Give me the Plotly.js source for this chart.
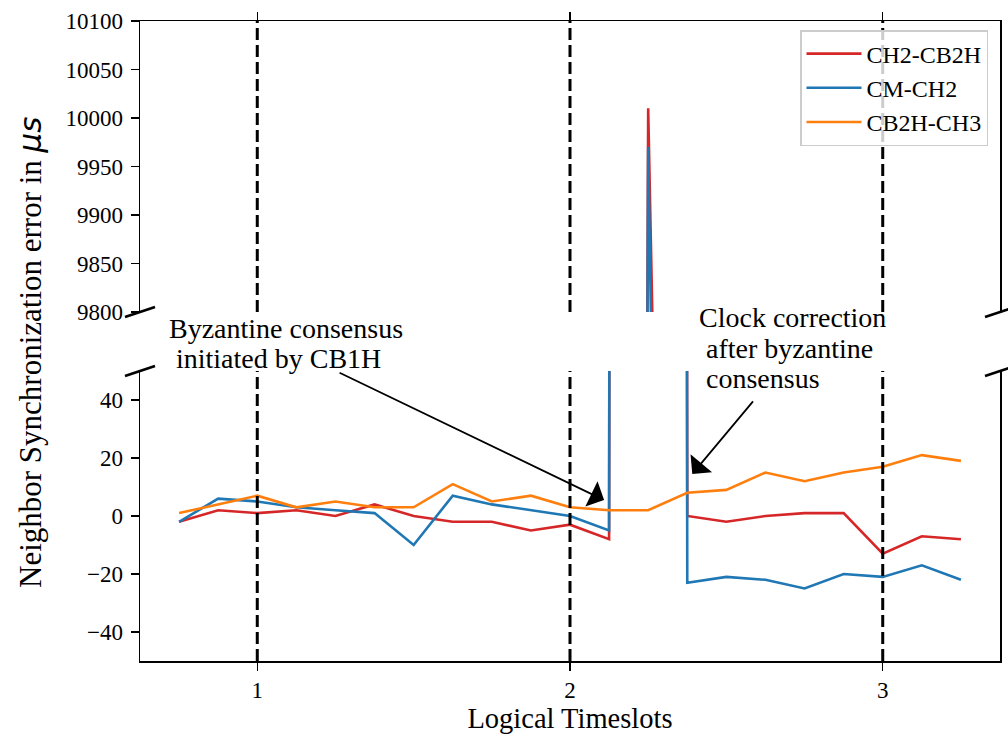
<!DOCTYPE html>
<html>
<head>
<meta charset="utf-8">
<script src="https://cdn.plot.ly/plotly-3.0.1.min.js"></script>
<style>html,body{margin:0;padding:0;background:#fff;}#chart{width:1008px;height:734px;}</style>
</head>
<body>
<div id="chart"></div>
<script>
// ---- data ----
const timeslots = [0.75, 0.875, 1, 1.125, 1.25, 1.375, 1.5, 1.625, 1.75, 1.875, 2, 2.125, 2.25, 2.375, 2.5, 2.625, 2.75, 2.875, 3, 3.125, 3.25];
const ch2_cb2h = [-2, 2, 1, 2, 0, 4, 0, -2, -2, -5, -3, -8, 10010, 0, -2, 0, 1, 1, -13, -7, -8];
const cm_ch2 = [-2, 6, 5, 3, 2, 1, -10, 7, 4, 2, 0, -5, 9970, -23, -21, -22, -25, -20, -21, -17, -22];
const cb2h_ch3 = [1, 4, 7, 3, 5, 3, 3, 11, 5, 7, 3, 2, 2, 8, 9, 15, 12, 15, 17, 21, 19];
const seriesNames = ['CH2-CB2H', 'CM-CH2', 'CB2H-CH3'];
const seriesColors = ['#d62728', '#1f77b4', '#ff7f0e'];
const epochMarkers = [1, 2, 3];
const xTickVals = [1, 2, 3];
const xTickText = ['1', '2', '3'];
const upperTicks = [9800, 9850, 9900, 9950, 10000, 10050, 10100];
const upperTickText = ['9800', '9850', '9900', '9950', '10000', '10050', '10100'];
const lowerTicks = [-40, -20, 0, 20, 40];
const lowerTickText = ['\u221240', '\u221220', '0', '20', '40'];
const upperRange = [9800, 10100];
const lowerRange = [-50, 50];
const xRange = [0.625, 3.375];

const FONT = 'Liberation Serif';
const series = [ch2_cb2h, cm_ch2, cb2h_ch3];

// geometry (pixels)
const W = 1008, H = 734;
const mL = 140, mR = 8, mT = 21, mB = 73;
const pw = W - mL - mR, ph = H - mT - mB;
const upperBottomPx = 312, lowerTopPx = 371;
const upperDom = [(H - mB - upperBottomPx) / ph, 1];
const lowerDom = [0, (H - mB - lowerTopPx) / ph];
const px2x = p => (p - mL) / pw;
const px2y = p => (H - mB - p) / ph;

const traces = [];
series.forEach((vals, i) => {
  traces.push({x: timeslots, y: vals, type: 'scatter', mode: 'lines', name: seriesNames[i],
    xaxis: 'x', yaxis: 'y', line: {color: seriesColors[i], width: 2.6}, showlegend: false});
});
series.forEach((vals, i) => {
  traces.push({x: timeslots, y: vals, type: 'scatter', mode: 'lines', name: seriesNames[i],
    xaxis: 'x2', yaxis: 'y2', line: {color: seriesColors[i], width: 2.6}, showlegend: true});
});

const shapes = [];
epochMarkers.forEach(v => {
  shapes.push({type: 'line', xref: 'x', yref: 'y domain', x0: v, x1: v, y0: 0, y1: 1,
    line: {color: 'black', width: 3, dash: '12px,5px'}, layer: 'above'});
  shapes.push({type: 'line', xref: 'x2', yref: 'y2 domain', x0: v, x1: v, y0: 0, y1: 1,
    line: {color: 'black', width: 3, dash: '12px,5px'}, layer: 'above'});
});
// broken-axis diagonal marks
const dxp = 15, dyp = 5;
[[mL, upperBottomPx], [W - mR, upperBottomPx], [mL, lowerTopPx], [W - mR, lowerTopPx]].forEach(([cx, cy]) => {
  shapes.push({type: 'line', xref: 'paper', yref: 'paper',
    x0: px2x(cx - dxp), y0: px2y(cy + dyp), x1: px2x(cx + dxp), y1: px2y(cy - dyp),
    line: {color: 'black', width: 2.6}});
});

function tf(size) { return {family: FONT, size: size, color: 'black'}; }
const annotations = [
  // y-axis title
  {xref: 'paper', yref: 'paper', x: px2x(30), y: px2y(353), textangle: -90, showarrow: false,
   xanchor: 'center', yanchor: 'middle',
   text: 'Neighbor Synchronization error in <span style="font-family:DejaVu Sans"><i>μs</i></span>',
   font: tf(31)},
  // text labels
  {xref: 'paper', yref: 'paper', x: px2x(167), y: px2y(328), xanchor: 'left', yanchor: 'middle', showarrow: false,
   text: 'Byzantine consensus', font: tf(28)},
  {xref: 'paper', yref: 'paper', x: px2x(167), y: px2y(358), xanchor: 'left', yanchor: 'middle', showarrow: false,
   text: '\u00a0initiated by CB1H', font: tf(28)},
  {xref: 'paper', yref: 'paper', x: px2x(697), y: px2y(317), xanchor: 'left', yanchor: 'middle', showarrow: false,
   text: 'Clock correction', font: tf(28)},
  {xref: 'paper', yref: 'paper', x: px2x(697), y: px2y(348), xanchor: 'left', yanchor: 'middle', showarrow: false,
   text: '\u00a0after byzantine', font: tf(28)},
  {xref: 'paper', yref: 'paper', x: px2x(697), y: px2y(378), xanchor: 'left', yanchor: 'middle', showarrow: false,
   text: '\u00a0consensus', font: tf(28)},
  // arrows
  {xref: 'x', yref: 'y', x: 2.109, y: 5.5, text: '', showarrow: true, arrowhead: 1, arrowsize: 2.6,
   arrowwidth: 1.8, arrowcolor: 'black', ax: -266, ay: -128, standoff: 0},
  {xref: 'x', yref: 'y', x: 2.391, y: 14.5, text: '', showarrow: true, arrowhead: 1, arrowsize: 2.6,
   arrowwidth: 1.8, arrowcolor: 'black', ax: 62, ay: -74, standoff: 0}
];

function axisBase() {
  return {showgrid: false, zeroline: false, showline: true, linecolor: 'black', linewidth: 1.5,
    ticks: 'outside', ticklen: 8, tickwidth: 1.5, tickcolor: 'black', ticklabelstandoff: 3,
    tickfont: {family: FONT, size: 23, color: 'black'}};
}

const layout = {
  width: W, height: H,
  margin: {l: mL, r: mR, t: mT, b: mB, pad: 0},
  paper_bgcolor: 'white', plot_bgcolor: 'white',
  font: {family: FONT, size: 23, color: 'black'},
  showlegend: true,
  legend: {x: px2x(988), y: px2y(30), xanchor: 'right', yanchor: 'top', itemwidth: 55,
    bgcolor: 'rgba(255,255,255,0.8)', bordercolor: '#cccccc', borderwidth: 1.5,
    font: tf(24)},
  xaxis: Object.assign(axisBase(), {range: xRange, anchor: 'y', tickmode: 'array', tickvals: xTickVals, ticktext: xTickText,
    ticklabelstandoff: 0, title: {text: 'Logical Timeslots', font: tf(28.5), standoff: 17}}),
  xaxis2: Object.assign(axisBase(), {range: xRange, anchor: 'y2', matches: 'x', side: 'top',
    tickmode: 'array', tickvals: xTickVals, ticktext: xTickText, showticklabels: false}),
  yaxis: Object.assign(axisBase(), {domain: lowerDom, range: lowerRange, tickmode: 'array',
    tickvals: lowerTicks, ticktext: lowerTickText, mirror: true}),
  yaxis2: Object.assign(axisBase(), {domain: upperDom, range: upperRange, tickmode: 'array',
    tickvals: upperTicks, ticktext: upperTickText, mirror: true}),
  shapes: shapes,
  annotations: annotations
};

Plotly.newPlot('chart', traces, layout, {displayModeBar: false, staticPlot: true});
</script>
</body>
</html>
